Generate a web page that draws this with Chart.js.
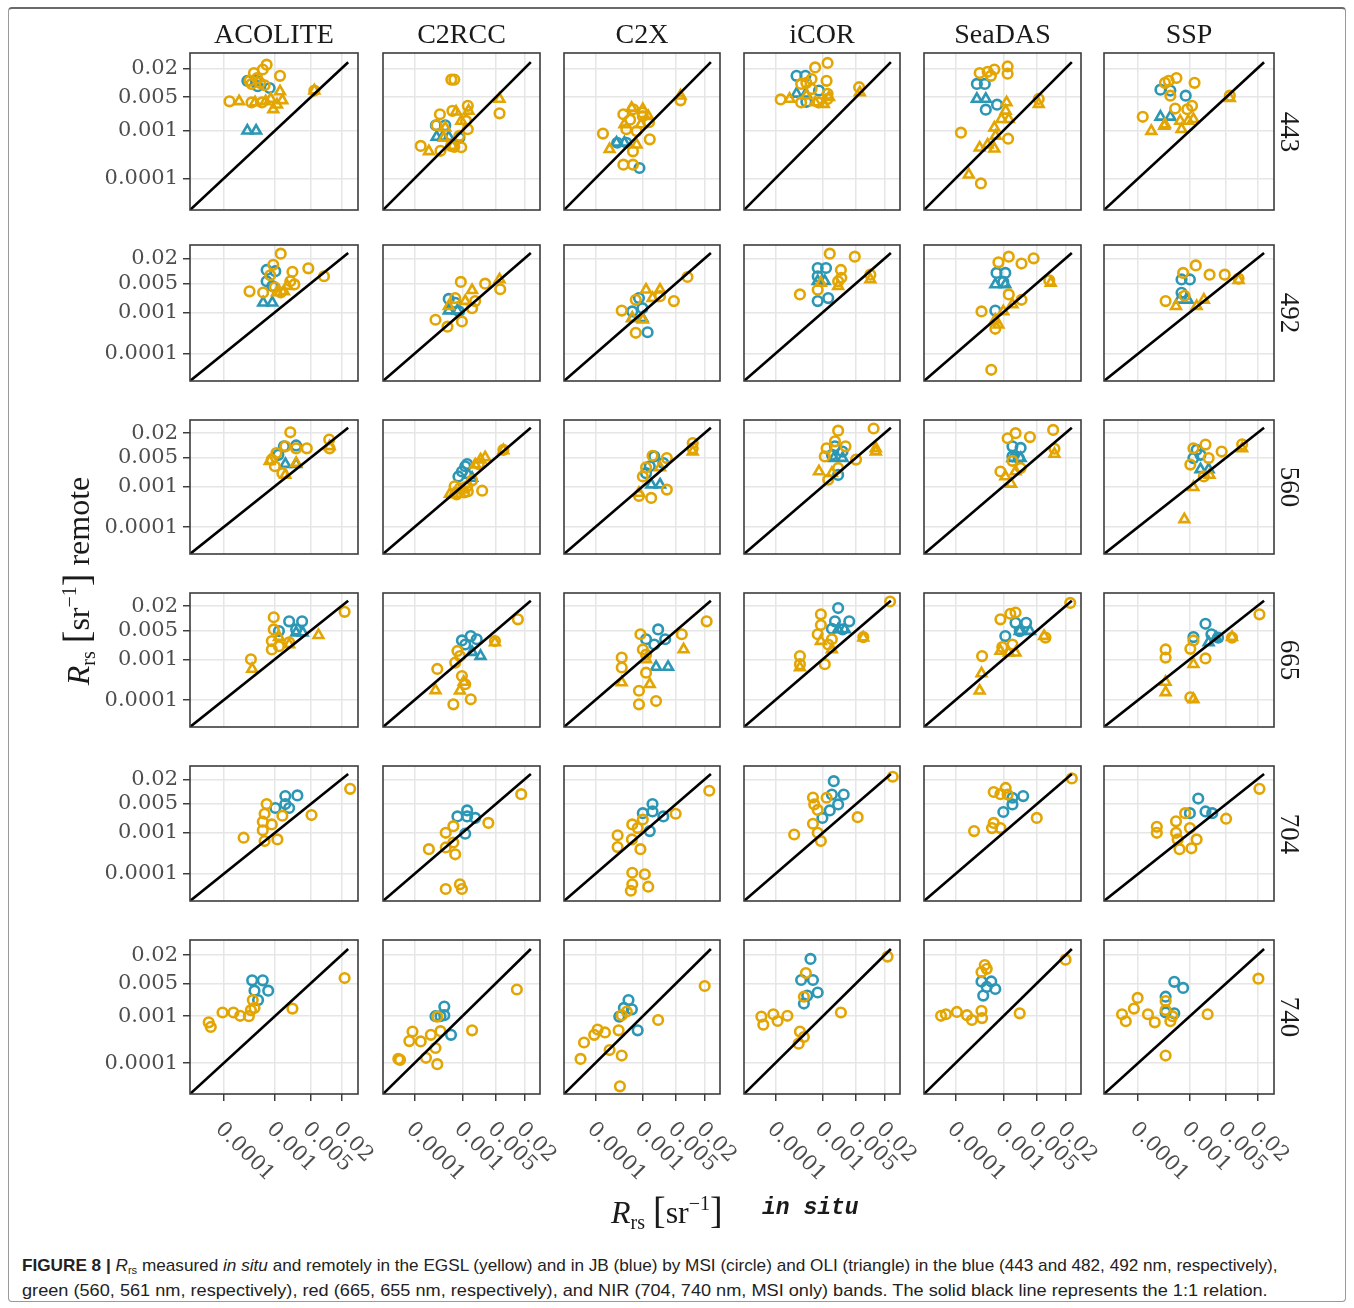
<!DOCTYPE html>
<html>
<head>
<meta charset="utf-8">
<script src="https://cdn.jsdelivr.net/npm/chart.js@4.4.1/dist/chart.umd.min.js"></script>
<style>
  body { margin: 0; background: #fff; width: 1354px; height: 1308px; position: relative; overflow: hidden; font-family: 'Liberation Serif', serif; color: #1a1a1a; }
  .frame { position: absolute; left: 8px; top: 7px; width: 1338px; height: 1295px; border: 1px solid #9a9a9a; border-top: 2px solid #6a6a6a; border-radius: 4px; box-sizing: border-box; }
  .panel { position: absolute; }
  .colhead { position: absolute; top: 20px; font-size: 28px; line-height: 28px; text-align: center; }
  .rowlab { position: absolute; width: 70px; height: 30px; line-height: 30px; font-size: 27px; text-align: center; transform: rotate(90deg); }
  .ytitle { position: absolute; width: 340px; height: 40px; line-height: 40px; font-size: 32px; text-align: center; transform: rotate(-90deg); white-space: nowrap; }
  .xtitle { position: absolute; top: 1183px; height: 40px; line-height: 40px; font-size: 32px; white-space: nowrap; }
  .ytitle sub, .xtitle sub { font-size: 20px; vertical-align: -6px; }
  .ytitle sup, .xtitle sup { font-size: 20px; vertical-align: 13px; }
  .brk { font-size: 38px; }
  .insitu { font-family: 'Liberation Mono', monospace; font-style: italic; font-weight: bold; font-size: 23px; }
  .caption { position: absolute; left: 22px; font-family: 'Liberation Sans', Arial, sans-serif; font-size: 17px; line-height: 20px; color: #222; white-space: nowrap; transform-origin: left center; }
  .caption sub { font-size: 11px; vertical-align: -3px; }
</style>
</head>
<body>
<div class="frame"></div>
<script>
const PROCESSORS = ['ACOLITE', 'C2RCC', 'C2X', 'iCOR', 'SeaDAS', 'SSP'];
const BANDS = ['443', '492', '560', '665', '704', '740'];
const TICK_VALUES = [0.0001, 0.001, 0.005, 0.02];
const TICK_LABELS = ['0.0001', '0.001', '0.005', '0.02'];
const AXIS_RANGE = [2.2e-5, 4.2e-2];
const ONE_TO_ONE = [2.2e-5, 2.7e-2];

// each panel: [in situ, remote] pairs for EGSL/JB and MSI/OLI
const ACOLITE_443 = {
  egslMsi: [[1.3e-4,4.1e-3],[6.9e-4,2.4e-2],[5.8e-4,1.9e-2],[3.9e-4,1.6e-2],[1.26e-3,1.4e-2],[3.2e-4,1.1e-2],[3.5e-4,9.5e-3],[5.1e-4,1.0e-2],[3.5e-4,3.9e-3],[5.6e-4,3.9e-3],[5.9e-3,6.9e-3],[4.5e-4,1.25e-2],[6.3e-4,8.9e-3]],
  egslOli: [[2.0e-4,4.1e-3],[4.1e-4,3.9e-3],[6.6e-4,4.1e-3],[9.3e-4,2.8e-3],[1.26e-3,6.6e-3],[1.4e-3,4.3e-3],[8.3e-4,4.6e-3],[5.9e-3,6.9e-3],[1.1e-3,3.5e-3]],
  jbMsi: [[2.9e-4,1.1e-2],[4.3e-4,1.1e-2],[4.6e-4,8.5e-3],[7.9e-4,7.8e-3]],
  jbOli: [[2.9e-4,1.0e-3],[4.3e-4,1.0e-3]]
};
const C2RCC_443 = {
  egslMsi: [[5.9e-4,1.17e-2],[6.8e-4,1.17e-2],[3.4e-4,2.2e-3],[6.2e-4,2.6e-3],[1.3e-3,3.3e-3],[6.0e-3,2.3e-3],[2.9e-4,1.3e-3],[1.35e-4,4.8e-4],[3.5e-4,3.8e-4],[6.8e-4,4.6e-4],[9.5e-4,4.5e-4],[1.3e-3,1.07e-3],[1.2e-3,1.6e-3],[8.7e-4,7.8e-4],[5.8e-4,4.8e-4]],
  egslOli: [[2.0e-4,3.7e-4],[4.4e-4,1.15e-3],[7.4e-4,2.5e-3],[9.5e-4,1.6e-3],[1.35e-3,2.6e-3],[6.0e-3,4.6e-3],[6.2e-4,4.8e-4],[4.1e-4,7.1e-4]],
  jbMsi: [[2.8e-4,1.3e-3],[4.4e-4,1.3e-3],[8.7e-4,7.1e-4]],
  jbOli: [[2.9e-4,7.4e-4],[3.9e-4,7.4e-4],[5.2e-4,7.4e-4]]
};
const C2X_443 = {
  egslMsi: [[1.45e-4,8.7e-4],[3.9e-4,2.2e-3],[6.3e-4,2.8e-3],[9.8e-4,2.4e-3],[4.5e-4,1.07e-3],[7.4e-4,9.8e-4],[1.4e-3,6.6e-4],[6.2e-4,3.7e-4],[3.9e-4,1.95e-4],[6.2e-4,1.95e-4],[6.2e-3,4.3e-3],[1.35e-3,1.5e-3],[1.0e-3,2.0e-3],[5.4e-4,1.7e-3]],
  egslOli: [[2.0e-4,4.1e-4],[7.4e-4,5.1e-4],[5.8e-4,3.0e-3],[1.0e-3,2.8e-3],[1.3e-3,2.0e-3],[6.2e-3,5.4e-3],[9.1e-4,1.35e-3],[4.1e-4,1.35e-3]],
  jbMsi: [[2.9e-4,5.6e-4],[4.5e-4,5.6e-4],[8.5e-4,1.66e-4]],
  jbOli: [[2.8e-4,5.6e-4],[4.1e-4,5.6e-4]]
};
const ICOR_443 = {
  egslMsi: [[1.3e-4,4.5e-3],[1.26e-3,2.6e-2],[6.9e-4,2.1e-2],[1.2e-3,1.1e-2],[3.5e-4,9.5e-3],[4.5e-4,1.0e-2],[5.8e-4,7.4e-3],[1.26e-3,5.9e-3],[1.26e-3,4.6e-3],[5.8e-3,8.1e-3],[3.5e-4,3.9e-3],[8.1e-4,3.9e-3],[5.8e-4,1.2e-2]],
  egslOli: [[2.0e-4,4.6e-3],[6.9e-4,3.9e-3],[1.05e-3,3.6e-3],[1.35e-3,5.0e-3],[6.0e-3,6.3e-3],[4.5e-4,5.4e-3]],
  jbMsi: [[2.8e-4,1.4e-2],[4.3e-4,1.4e-2],[8.3e-4,6.9e-3],[4.5e-4,4.0e-3]],
  jbOli: [[2.8e-4,5.9e-3],[4.4e-4,5.9e-3]]
};
const SEADAS_443 = {
  egslMsi: [[3.2e-4,1.6e-2],[4.7e-4,1.7e-2],[6.5e-4,1.9e-2],[1.23e-3,2.2e-2],[1.23e-3,1.55e-2],[1.3e-4,9.1e-4],[3.4e-4,7.9e-5],[1.26e-3,6.8e-4],[5.5e-3,4.6e-3],[5.5e-4,1.4e-2]],
  egslOli: [[1.17e-3,3.9e-3],[1.12e-3,2.6e-3],[9.1e-4,1.74e-3],[6.5e-4,1.15e-3],[6.9e-4,7.8e-4],[4.7e-4,5.1e-4],[3.2e-4,4.4e-4],[6.5e-4,4.2e-4],[1.9e-4,1.2e-4],[5.5e-3,3.6e-3],[1.3e-3,1.74e-3]],
  jbMsi: [[2.8e-4,9.5e-3],[4.1e-4,9.5e-3],[4.3e-4,2.75e-3],[7.4e-4,3.5e-3]],
  jbOli: [[2.8e-4,4.6e-3],[4.3e-4,4.6e-3]]
};
const SSP_443 = {
  egslMsi: [[1.23e-4,1.95e-3],[3.3e-4,1.0e-2],[5.5e-4,1.26e-2],[1.23e-3,1.0e-2],[4.2e-4,5.4e-3],[5.2e-4,2.9e-3],[8.9e-4,2.8e-3],[1.1e-3,3.3e-3],[5.9e-3,5.4e-3],[3.9e-4,1.1e-2]],
  egslOli: [[1.8e-4,9.8e-4],[3.2e-4,1.26e-3],[6.9e-4,1.07e-3],[6.5e-4,1.6e-3],[9.3e-4,1.6e-3],[1.17e-3,1.74e-3],[5.9e-3,4.8e-3],[3.3e-4,1.35e-3]],
  jbMsi: [[2.7e-4,7.2e-3],[4.2e-4,6.9e-3],[8.3e-4,5.4e-3]],
  jbOli: [[2.7e-4,1.95e-3],[4.2e-4,1.95e-3]]
};

const ACOLITE_492 = {
  egslMsi: [[1.3e-3,2.6e-2],[9.3e-4,1.4e-2],[2.2e-3,9.5e-3],[4.5e-3,1.15e-2],[9.1e-3,7.4e-3],[3.2e-4,3.2e-3],[5.9e-4,3.0e-3],[2.0e-3,5.6e-3],[2.4e-3,4.7e-3],[1.3e-3,3.0e-3],[8.1e-4,7.8e-3],[1.0e-3,4.0e-3]],
  egslOli: [[1.1e-3,3.0e-3],[1.74e-3,4.3e-3],[1.5e-3,3.2e-3]],
  jbMsi: [[6.9e-4,1.05e-2],[1.02e-3,9.8e-3],[6.9e-4,5.6e-3],[8.9e-4,4.3e-3]],
  jbOli: [[5.9e-4,1.7e-3],[8.9e-4,1.7e-3]]
};
const C2RCC_492 = {
  egslMsi: [[9.3e-4,5.4e-3],[6.2e-3,3.6e-3],[3.0e-3,4.9e-3],[1.86e-3,1.86e-3],[2.75e-4,6.6e-4],[4.9e-4,4.5e-4],[9.8e-4,6.0e-4],[7.1e-4,2.2e-3],[1.6e-3,1.26e-3]],
  egslOli: [[1.6e-3,3.4e-3],[6.0e-3,6.2e-3],[1.15e-3,1.86e-3],[5.2e-4,1.4e-3]],
  jbMsi: [[5.2e-4,2.1e-3],[7.1e-4,1.7e-3],[8.5e-4,1.05e-3]],
  jbOli: [[5.2e-4,1.1e-3],[7.9e-4,1.1e-3]]
};
const C2X_492 = {
  egslMsi: [[8.7e-3,7.1e-3],[4.5e-3,1.86e-3],[3.6e-4,1.1e-3],[7.1e-4,3.2e-4],[2.3e-3,2.45e-3],[7.1e-4,2.0e-3]],
  egslOli: [[1.17e-3,3.5e-3],[2.3e-3,3.5e-3],[1.6e-3,2.2e-3],[6.0e-4,7.2e-4],[1.0e-3,6.6e-4]],
  jbMsi: [[8.3e-4,2.2e-3],[9.8e-4,1.26e-3],[6.0e-4,1.05e-3],[1.26e-3,3.3e-4]],
  jbOli: [[6.0e-4,7.2e-4],[9.8e-4,7.2e-4]]
};
const ICOR_492 = {
  egslMsi: [[1.4e-3,2.6e-2],[4.7e-3,2.2e-2],[2.4e-3,1.05e-2],[3.3e-4,2.7e-3],[2.1e-3,5.6e-3],[2.45e-3,6.8e-3],[1.0e-2,8.1e-3],[7.8e-4,3.5e-3]],
  egslOli: [[1.0e-2,6.2e-3],[9.1e-4,5.1e-3],[2.1e-3,4.3e-3]],
  jbMsi: [[7.8e-4,1.17e-2],[1.17e-3,1.17e-2],[7.8e-4,7.4e-3],[7.8e-4,1.86e-3],[1.3e-3,2.2e-3]],
  jbOli: [[7.8e-4,5.6e-3],[1.1e-3,5.6e-3]]
};
const SEADAS_492 = {
  egslMsi: [[1.3e-3,2.2e-2],[4.3e-3,2.0e-2],[7.9e-4,1.6e-2],[2.4e-3,1.5e-2],[9.1e-3,5.9e-3],[3.5e-4,1.05e-3],[6.8e-4,4.0e-4],[5.6e-4,4.1e-5],[2.4e-3,2.0e-3],[1.3e-3,2.7e-3]],
  egslOli: [[6.8e-4,6.6e-4],[1.0e-3,1.05e-3],[1.55e-3,1.55e-3],[9.8e-3,5.1e-3],[7.9e-4,5.0e-4]],
  jbMsi: [[7.2e-4,8.9e-3],[1.1e-3,8.9e-3],[1.0e-3,5.4e-3],[6.8e-4,1.1e-3]],
  jbOli: [[6.8e-4,4.7e-3],[1.1e-3,4.7e-3]]
};
const SSP_492 = {
  egslMsi: [[3.4e-4,1.86e-3],[1.3e-3,1.35e-2],[2.4e-3,8.1e-3],[4.7e-3,8.1e-3],[8.7e-3,6.5e-3],[7.4e-4,8.9e-3],[7.9e-4,2.5e-3]],
  egslOli: [[8.7e-3,6.0e-3],[5.4e-4,1.4e-3],[1.86e-3,2.0e-3],[1.35e-3,1.4e-3]],
  jbMsi: [[6.9e-4,6.2e-3],[1.0e-3,6.2e-3],[6.9e-4,2.95e-3]],
  jbOli: [[6.3e-4,2.0e-3],[9.1e-4,2.0e-3]]
};

const ACOLITE_560 = {
  egslMsi: [[2.0e-3,2.1e-2],[1.6e-3,9.5e-3],[1.07e-3,6.5e-3],[2.6e-3,8.5e-3],[4.2e-3,8.5e-3],[1.15e-2,1.4e-2],[1.17e-2,8.5e-3],[1.0e-3,3.1e-3],[1.4e-3,2.1e-3],[8.7e-4,4.5e-3]],
  egslOli: [[7.9e-4,4.1e-3],[1.6e-3,1.9e-3],[2.6e-3,3.7e-3],[1.17e-2,9.5e-3]],
  jbMsi: [[1.5e-3,9.5e-3],[2.6e-3,1.0e-2],[1.17e-3,5.9e-3]],
  jbOli: [[1.6e-3,3.5e-3],[2.6e-3,3.5e-3]]
};
const C2RCC_560 = {
  egslMsi: [[7.2e-3,7.8e-3],[2.6e-3,7.8e-4],[6.9e-4,1.0e-3],[8.9e-4,8.9e-4],[1.26e-3,1.0e-3],[1.1e-3,7.1e-4],[7.6e-4,6.3e-4],[2.2e-3,3.5e-3],[1.6e-3,1.4e-3],[8.0e-4,7.0e-4],[1.3e-3,7.5e-4]],
  egslOli: [[6.5e-4,6.3e-4],[1.0e-3,8.3e-4],[1.86e-3,3.4e-3],[3.0e-3,5.1e-3],[2.4e-3,4.5e-3],[7.2e-3,7.6e-3],[5.5e-4,6.5e-4]],
  jbMsi: [[1.15e-3,3.1e-3],[1.26e-3,3.5e-3],[8.3e-4,1.74e-3],[9.8e-4,2.3e-3]],
  jbOli: [[1.6e-3,1.6e-3],[1.35e-3,1.9e-3]]
};
const C2X_560 = {
  egslMsi: [[1.12e-2,1.15e-2],[1.12e-2,8.5e-3],[3.2e-3,4.9e-3],[3.2e-3,8.3e-4],[8.3e-4,5.8e-4],[1.5e-3,5.2e-4],[1.0e-3,1.74e-3],[1.17e-3,2.9e-3],[1.6e-3,5.6e-3]],
  egslOli: [[1.12e-2,7.1e-3],[2.3e-3,2.9e-3],[8.3e-4,6.9e-4]],
  jbMsi: [[1.74e-3,5.4e-3],[1.4e-3,3.1e-3],[1.17e-3,2.1e-3],[2.7e-3,3.7e-3]],
  jbOli: [[1.5e-3,1.1e-3],[2.3e-3,1.1e-3]]
};
const ICOR_560 = {
  egslMsi: [[1.17e-2,2.6e-2],[2.1e-3,2.3e-2],[1.8e-3,1.26e-2],[1.2e-3,8.5e-3],[3.0e-3,9.5e-3],[1.1e-3,5.4e-3],[1.3e-3,1.45e-3],[2.1e-3,2.8e-3],[5.0e-3,4.5e-3]],
  egslOli: [[8.3e-4,2.3e-3],[1.3e-2,8.5e-3],[1.3e-2,7.1e-3],[1.55e-3,2.1e-3]],
  jbMsi: [[1.8e-3,9.5e-3],[2.6e-3,7.1e-3],[1.55e-3,5.9e-3],[2.1e-3,1.9e-3]],
  jbOli: [[1.7e-3,4.9e-3],[2.6e-3,4.9e-3]]
};
const SEADAS_560 = {
  egslMsi: [[1.1e-2,2.4e-2],[1.8e-3,2.0e-2],[1.23e-3,1.5e-2],[3.6e-3,1.6e-2],[1.17e-2,8.3e-3],[8.7e-4,2.3e-3],[2.3e-3,2.8e-3],[1.55e-3,4.2e-3]],
  egslOli: [[1.45e-3,1.15e-3],[1.17e-2,6.2e-3],[1.1e-3,1.74e-3],[1.8e-3,2.3e-3]],
  jbMsi: [[1.55e-3,9.5e-3],[2.3e-3,8.7e-3],[1.55e-3,5.4e-3],[2.1e-3,4.9e-3]],
  jbOli: [[1.55e-3,4.9e-3],[2.3e-3,4.9e-3]]
};
const SSP_560 = {
  egslMsi: [[1.02e-2,1.07e-2],[1.17e-3,8.5e-3],[2.0e-3,1.05e-2],[4.1e-3,7.1e-3],[1.02e-3,3.4e-3],[1.86e-3,1.74e-3],[2.3e-3,4.9e-3]],
  egslOli: [[7.8e-4,1.55e-4],[1.17e-3,9.5e-4],[1.02e-2,8.5e-3],[2.4e-3,1.9e-3]],
  jbMsi: [[1.35e-3,7.8e-3],[1.17e-3,4.9e-3],[1.6e-3,5.9e-3]],
  jbOli: [[1.6e-3,2.6e-3],[2.3e-3,2.6e-3]]
};

const ACOLITE_665 = {
  egslMsi: [[2.3e-2,1.45e-2],[9.5e-4,1.07e-2],[9.5e-4,5.4e-3],[8.7e-4,2.8e-3],[8.7e-4,1.74e-3],[1.2e-3,2.1e-3],[3.4e-4,1.0e-3],[1.9e-3,2.6e-3]],
  egslOli: [[3.6e-4,5.8e-4],[7.1e-3,3.9e-3],[1.9e-3,2.3e-3],[1.2e-3,3.5e-3]],
  jbMsi: [[1.9e-3,8.5e-3],[3.4e-3,8.5e-3],[2.6e-3,5.4e-3],[1.2e-3,4.9e-3]],
  jbOli: [[2.6e-3,4.5e-3],[3.5e-3,4.5e-3]]
};
const C2RCC_665 = {
  egslMsi: [[1.45e-2,9.5e-3],[4.8e-3,2.8e-3],[7.9e-4,1.6e-3],[3.0e-4,5.8e-4],[7.1e-4,8.3e-4],[9.8e-4,3.9e-4],[6.5e-4,7.9e-5],[1.5e-3,1.05e-4],[1.15e-3,2.45e-4],[8.9e-4,1.2e-3]],
  egslOli: [[2.75e-4,1.74e-4],[8.9e-4,1.7e-4],[4.8e-3,2.6e-3],[1.07e-3,2.8e-4]],
  jbMsi: [[9.8e-4,2.9e-3],[1.5e-3,3.7e-3],[2.0e-3,3.1e-3],[1.15e-3,2.3e-3]],
  jbOli: [[2.4e-3,1.2e-3],[1.6e-3,1.5e-3]]
};
const C2X_665 = {
  egslMsi: [[2.2e-2,8.5e-3],[6.6e-3,4.1e-3],[8.9e-4,4.1e-3],[3.6e-4,1.1e-3],[3.6e-4,6.3e-4],[8.3e-4,1.7e-4],[1.9e-3,9.5e-5],[8.3e-4,7.9e-5],[1.17e-3,4.7e-4],[1.17e-3,1.3e-3],[1.0e-3,1.74e-3]],
  egslOli: [[7.2e-3,1.74e-3],[3.6e-4,2.7e-4],[1.4e-3,2.45e-4],[1.17e-3,1.0e-3]],
  jbMsi: [[2.1e-3,5.4e-3],[1.17e-3,3.1e-3],[2.95e-3,3.1e-3],[1.74e-3,2.3e-3]],
  jbOli: [[1.9e-3,6.5e-4],[3.4e-3,6.5e-4]]
};
const ICOR_665 = {
  egslMsi: [[2.6e-2,2.6e-2],[9.1e-4,1.26e-2],[9.1e-4,6.9e-3],[7.8e-4,4.1e-3],[7.1e-3,3.5e-3],[3.3e-4,1.2e-3],[3.3e-4,7.6e-4],[1.1e-3,7.6e-4],[1.3e-3,2.3e-3],[1.55e-3,3.1e-3]],
  egslOli: [[3.3e-4,6.3e-4],[7.1e-3,3.4e-3],[9.1e-4,2.8e-3],[1.55e-3,1.74e-3]],
  jbMsi: [[2.1e-3,1.8e-2],[1.8e-3,8.5e-3],[3.6e-3,8.5e-3],[2.6e-3,5.4e-3],[1.55e-3,5.6e-3]],
  jbOli: [[2.1e-3,5.4e-3],[2.9e-3,5.4e-3]]
};
const SEADAS_665 = {
  egslMsi: [[2.5e-2,2.4e-2],[8.7e-4,9.5e-3],[1.4e-3,1.3e-2],[1.8e-3,1.4e-2],[7.6e-3,3.4e-3],[3.6e-4,1.2e-3],[9.5e-4,2.0e-3],[1.55e-3,2.3e-3]],
  egslOli: [[3.5e-4,4.5e-4],[3.2e-4,1.7e-4],[1.3e-3,1.45e-3],[8.7e-4,1.6e-3],[1.8e-3,1.45e-3],[7.1e-3,3.7e-3]],
  jbMsi: [[1.8e-3,7.8e-3],[3.0e-3,7.8e-3],[1.1e-3,3.7e-3],[2.2e-3,4.9e-3]],
  jbOli: [[2.2e-3,4.9e-3],[3.6e-3,4.9e-3]]
};
const SSP_665 = {
  egslMsi: [[2.2e-2,1.26e-2],[3.4e-4,1.74e-3],[3.4e-4,1.1e-3],[2.0e-3,1.05e-3],[1.02e-3,1.17e-4],[1.17e-3,2.9e-3],[1.02e-3,1.8e-3],[6.5e-3,3.4e-3]],
  egslOli: [[3.4e-4,2.8e-4],[3.4e-4,1.55e-4],[1.17e-3,7.6e-4],[6.5e-3,3.5e-3],[1.17e-3,1.05e-4]],
  jbMsi: [[2.0e-3,7.4e-3],[1.17e-3,3.5e-3],[2.6e-3,4.1e-3],[3.5e-3,3.4e-3]],
  jbOli: [[3.2e-3,3.4e-3],[2.3e-3,2.6e-3]]
};

const ACOLITE_704 = {
  egslMsi: [[2.95e-2,1.17e-2],[5.2e-3,2.7e-3],[6.9e-4,5.0e-3],[6.3e-4,2.9e-3],[5.8e-4,1.86e-3],[5.8e-4,1.15e-3],[2.45e-4,7.6e-4],[6.3e-4,6.3e-4],[1.12e-3,6.9e-4],[8.7e-4,1.6e-3],[1.4e-3,2.6e-3]],
  jbMsi: [[1.6e-3,7.8e-3],[2.75e-3,8.1e-3],[1.02e-3,4.0e-3],[1.9e-3,4.0e-3],[1.6e-3,5.0e-3]]
};
const C2RCC_704 = {
  egslMsi: [[1.7e-2,8.7e-3],[3.5e-3,1.74e-3],[2.0e-4,4.0e-4],[4.5e-4,4.4e-4],[7.1e-4,3.0e-4],[4.5e-4,1.0e-3],[6.5e-4,1.45e-3],[6.5e-4,5.8e-4],[4.5e-4,4.3e-5],[8.9e-4,5.6e-5],[9.8e-4,4.3e-5]],
  jbMsi: [[7.9e-4,2.5e-3],[1.26e-3,3.5e-3],[1.86e-3,2.3e-3],[1.15e-3,9.5e-4],[1.26e-3,2.5e-3]]
};
const C2X_704 = {
  egslMsi: [[2.5e-2,1.05e-2],[4.9e-3,2.9e-3],[6.0e-4,1.6e-3],[1.0e-3,2.1e-3],[2.95e-4,8.7e-4],[5.9e-4,6.9e-4],[2.95e-4,4.5e-4],[8.9e-4,4.0e-4],[6.0e-4,1.07e-4],[1.1e-3,9.8e-5],[6.0e-4,5.6e-5],[1.3e-3,4.9e-5],[5.6e-4,3.9e-5],[7.8e-4,1.3e-3]],
  jbMsi: [[1.6e-3,5.0e-3],[1.0e-3,3.0e-3],[2.7e-3,2.5e-3],[1.4e-3,1.1e-3],[1.6e-3,3.3e-3]]
};
const ICOR_704 = {
  egslMsi: [[2.95e-2,2.3e-2],[5.4e-3,2.4e-3],[6.2e-4,7.2e-3],[6.6e-4,4.9e-3],[1.2e-3,7.1e-3],[2.5e-4,9.1e-4],[6.2e-4,1.66e-3],[7.8e-4,1.0e-3],[9.1e-4,6.3e-4],[7.8e-4,3.6e-3]],
  jbMsi: [[1.7e-3,1.8e-2],[1.55e-3,8.5e-3],[2.75e-3,8.5e-3],[2.1e-3,4.9e-3],[1.4e-3,3.5e-3],[9.8e-4,2.3e-3]]
};
const SEADAS_704 = {
  egslMsi: [[2.7e-2,2.1e-2],[6.3e-4,9.8e-3],[1.12e-3,1.23e-2],[8.7e-4,8.7e-3],[1.23e-3,8.5e-3],[5.0e-3,2.3e-3],[2.45e-4,1.1e-3],[6.3e-4,1.74e-3],[8.7e-4,1.3e-3],[5.8e-4,1.3e-3]],
  jbMsi: [[1.55e-3,7.1e-3],[2.6e-3,7.8e-3],[1.55e-3,4.9e-3],[1.0e-3,3.2e-3]]
};
const SSP_704 = {
  egslMsi: [[2.2e-2,1.17e-2],[5.0e-3,2.2e-3],[2.3e-4,1.4e-3],[2.3e-4,1.0e-3],[5.4e-4,1.9e-3],[5.4e-4,1.0e-3],[5.8e-4,6.9e-4],[1.0e-3,1.3e-3],[1.35e-3,6.9e-4],[6.3e-4,4.0e-4],[1.07e-3,4.2e-4],[8.1e-4,3.0e-3]],
  jbMsi: [[1.45e-3,6.8e-3],[1.0e-3,3.0e-3],[2.0e-3,3.3e-3],[2.7e-3,3.0e-3]]
};

const ACOLITE_740 = {
  egslMsi: [[2.3e-2,6.5e-3],[2.2e-3,1.45e-3],[5.1e-5,7.4e-4],[5.6e-5,5.9e-4],[9.5e-5,1.2e-3],[1.55e-4,1.2e-3],[2.1e-4,1.02e-3],[3.1e-4,1.0e-3],[3.4e-4,1.35e-3],[3.7e-4,2.2e-3],[4.0e-4,1.5e-3]],
  jbMsi: [[3.6e-4,5.8e-3],[5.8e-4,5.8e-3],[4.0e-4,3.5e-3],[7.4e-4,3.5e-3],[4.7e-4,2.2e-3]]
};
const C2RCC_740 = {
  egslMsi: [[1.38e-2,3.7e-3],[1.6e-3,5.0e-4],[3.0e-4,9.8e-4],[3.5e-4,4.8e-4],[9.1e-5,4.7e-4],[7.8e-5,2.95e-4],[1.35e-4,2.9e-4],[4.6e-5,1.23e-4],[5.0e-5,1.17e-4],[1.74e-4,1.3e-4],[2.75e-4,2.1e-4],[3.0e-4,9.5e-5],[2.2e-4,4.0e-4]],
  jbMsi: [[2.75e-4,1.0e-3],[4.2e-4,1.05e-3],[4.2e-4,1.6e-3],[3.5e-4,1.0e-3],[5.8e-4,4.0e-4]]
};
const C2X_740 = {
  egslMsi: [[2.0e-2,4.4e-3],[2.1e-3,8.3e-4],[4.9e-5,1.23e-4],[5.8e-5,2.75e-4],[9.5e-5,4.0e-4],[1.12e-4,5.2e-4],[1.6e-4,4.5e-4],[2.0e-4,1.9e-4],[3.6e-4,1.45e-4],[3.3e-4,3.2e-5],[3.1e-4,5.0e-4],[3.6e-4,1.05e-3],[4.6e-4,1.26e-3]],
  jbMsi: [[5.0e-4,2.2e-3],[4.0e-4,1.5e-3],[5.9e-4,1.4e-3],[3.2e-4,9.8e-4],[7.8e-4,5.0e-4]]
};
const ICOR_740 = {
  egslMsi: [[2.3e-2,1.86e-2],[2.4e-3,1.2e-3],[5.1e-5,9.8e-4],[5.6e-5,6.6e-4],[9.1e-5,1.1e-3],[1.12e-4,7.9e-4],[1.8e-4,1.02e-3],[3.3e-4,4.7e-4],[3.1e-4,2.6e-4],[4.0e-4,3.6e-4],[4.4e-4,8.3e-3],[4.0e-4,2.6e-3]],
  jbMsi: [[5.5e-4,1.66e-2],[3.5e-4,5.9e-3],[6.2e-4,5.9e-3],[7.8e-4,3.2e-3],[4.0e-4,1.86e-3],[4.7e-4,2.75e-3]]
};
const SEADAS_740 = {
  egslMsi: [[2.0e-2,1.6e-2],[2.2e-3,1.15e-3],[5.0e-5,1.02e-3],[6.3e-5,1.1e-3],[1.07e-4,1.23e-3],[1.74e-4,1.05e-3],[2.2e-4,8.3e-4],[3.5e-4,1.3e-3],[3.6e-4,9.1e-4],[4.1e-4,1.23e-2],[4.5e-4,1.02e-2],[3.5e-4,8.7e-3]],
  jbMsi: [[3.5e-4,5.5e-3],[5.6e-4,5.5e-3],[6.8e-4,3.8e-3],[3.8e-4,2.75e-3],[4.5e-4,4.2e-3]]
};
const SSP_740 = {
  egslMsi: [[2.1e-2,6.3e-3],[2.2e-3,1.1e-3],[4.9e-5,1.1e-3],[5.8e-5,7.8e-4],[9.8e-5,2.45e-3],[8.3e-5,1.45e-3],[1.55e-4,1.1e-3],[2.1e-4,7.4e-4],[3.4e-4,1.35e-3],[3.4e-4,2.1e-3],[4.2e-4,7.8e-4],[4.6e-4,1.0e-3],[3.4e-4,1.45e-4]],
  jbMsi: [[5.0e-4,5.4e-3],[7.4e-4,4.0e-3],[3.4e-4,2.6e-3],[3.4e-4,1.2e-3],[5.0e-4,1.15e-3]]
};

const PANELS = [
  [ACOLITE_443, C2RCC_443, C2X_443, ICOR_443, SEADAS_443, SSP_443],
  [ACOLITE_492, C2RCC_492, C2X_492, ICOR_492, SEADAS_492, SSP_492],
  [ACOLITE_560, C2RCC_560, C2X_560, ICOR_560, SEADAS_560, SSP_560],
  [ACOLITE_665, C2RCC_665, C2X_665, ICOR_665, SEADAS_665, SSP_665],
  [ACOLITE_704, C2RCC_704, C2X_704, ICOR_704, SEADAS_704, SSP_704],
  [ACOLITE_740, C2RCC_740, C2X_740, ICOR_740, SEADAS_740, SSP_740]
];

// panel boxes on the page
const COL_X = [190, 383, 564, 744, 924, 1104];
const COL_W = [168, 157, 156, 156, 157, 170];
const ROW_Y = [53, 245, 420, 593, 766, 940];
const ROW_H = [157, 136, 134, 134, 135, 154];

const YELLOW = '#E3A502';
const BLUE = '#2B97B5';
const SERIES = [
  { key: 'egslMsi', color: YELLOW, style: 'circle' },
  { key: 'egslOli', color: YELLOW, style: 'triangle' },
  { key: 'jbMsi', color: BLUE, style: 'circle' },
  { key: 'jbOli', color: BLUE, style: 'triangle' }
];

const framePlugin = {
  id: 'panelFrame',
  afterDatasetsDraw(chart) {
    const { ctx, chartArea: a } = chart;
    ctx.save();
    ctx.strokeStyle = '#3c3c3c';
    ctx.lineWidth = 1.6;
    ctx.strokeRect(a.left, a.top, a.right - a.left, a.bottom - a.top);
    ctx.restore();
  }
};

// rotated x tick labels under the bottom row
const xLabelPlugin = {
  id: 'xLabels',
  afterDraw(chart) {
    const { ctx, chartArea: a, scales } = chart;
    ctx.save();
    ctx.font = '21px "DejaVu Serif"';
    ctx.fillStyle = '#4d4d4d';
    ctx.textAlign = 'left';
    ctx.textBaseline = 'middle';
    TICK_VALUES.forEach((v, i) => {
      const px = scales.x.getPixelForValue(v);
      ctx.save();
      ctx.translate(px - 5, a.bottom + 32);
      ctx.rotate(Math.PI / 4);
      ctx.fillText(TICK_LABELS[i], 0, 0);
      ctx.restore();
    });
    ctx.restore();
  }
};

function makePanel(r, c) {
  const yAxisW = c === 0 ? 98 : 0;
  const padL = 12;
  const padB = r === 5 ? 110 : 22;
  const padT = 22;
  const padR = r === 5 ? 45 : 12;
  const left = padL + yAxisW;
  const w = COL_W[c] + left + padR;
  const h = ROW_H[r] + padT + padB;
  const box = document.createElement('div');
  box.className = 'panel';
  box.style.left = (COL_X[c] - left) + 'px';
  box.style.top = (ROW_Y[r] - padT) + 'px';
  const canvas = document.createElement('canvas');
  canvas.width = w;
  canvas.height = h;
  canvas.style.width = w + 'px';
  canvas.style.height = h + 'px';
  box.appendChild(canvas);
  document.body.appendChild(box);

  const data = PANELS[r][c];
  const datasets = [{
    type: 'line',
    data: ONE_TO_ONE.map(v => ({ x: v, y: v })),
    borderColor: '#000',
    borderWidth: 2.6,
    pointRadius: 0,
    order: 0
  }];
  SERIES.forEach(s => {
    datasets.push({
      type: 'scatter',
      data: (data[s.key] || []).map(([x, y]) => ({ x, y })),
      pointStyle: s.style,
      pointRadius: s.style === 'triangle' ? 5.6 : 4.8,
      borderColor: s.color,
      backgroundColor: 'rgba(0,0,0,0)',
      borderWidth: 2.6,
      order: 1
    });
  });

  const grid = (ticks) => ({
    color: '#E6E6E6',
    lineWidth: 1.5,
    drawTicks: ticks,
    tickLength: 7,
    tickColor: '#333',
    tickWidth: 1.4
  });

  new Chart(canvas, {
    type: 'scatter',
    data: { datasets },
    options: {
      responsive: false,
      animation: false,
      events: [],
      layout: { padding: { left: padL, right: padR, top: padT, bottom: padB } },
      plugins: { legend: { display: false }, tooltip: { enabled: false } },
      scales: {
        x: {
          type: 'logarithmic',
          min: AXIS_RANGE[0],
          max: AXIS_RANGE[1],
          afterBuildTicks: s => { s.ticks = TICK_VALUES.map(value => ({ value })); },
          afterFit: s => { s.height = 0; },
          border: { display: false },
          grid: grid(r === 5),
          ticks: { display: false, autoSkip: false }
        },
        y: {
          type: 'logarithmic',
          min: AXIS_RANGE[0],
          max: AXIS_RANGE[1],
          afterBuildTicks: s => { s.ticks = TICK_VALUES.map(value => ({ value })); },
          afterFit: s => { s.width = yAxisW; },
          border: { display: false },
          grid: grid(c === 0),
          ticks: {
            display: c === 0,
            autoSkip: false,
            padding: 5,
            color: '#4d4d4d',
            font: { family: 'DejaVu Serif', size: 21 },
            callback: (v, i) => TICK_LABELS[i]
          }
        }
      }
    },
    plugins: r === 5 ? [framePlugin, xLabelPlugin] : [framePlugin]
  });
}

for (let r = 0; r < BANDS.length; r++) {
  for (let c = 0; c < PROCESSORS.length; c++) makePanel(r, c);
}

function addDiv(cls, html, styles) {
  const d = document.createElement('div');
  d.className = cls;
  d.innerHTML = html;
  Object.assign(d.style, styles);
  document.body.appendChild(d);
  return d;
}

PROCESSORS.forEach((p, c) => {
  addDiv('colhead', p, { left: COL_X[c] + 'px', width: COL_W[c] + 'px' });
});
BANDS.forEach((b, r) => {
  const cy = ROW_Y[r] + ROW_H[r] / 2;
  addDiv('rowlab', b, { left: (1290 - 35) + 'px', top: (cy - 15) + 'px' });
});

addDiv('ytitle', '<i>R</i><sub>rs</sub> <span class="brk">[</span>sr<sup>\u22121</sup><span class="brk">]</span> remote', { left: (69 - 170) + 'px', top: (581 - 20) + 'px' });
addDiv('xtitle', '<i>R</i><sub>rs</sub> <span class="brk">[</span>sr<sup>\u22121</sup><span class="brk">]</span>', { left: '611px' });
addDiv('xtitle', '<span class="insitu">in situ</span>', { left: '762px' });

const cap1 = addDiv('caption', '<b>FIGURE 8 |</b> <i>R</i><sub>rs</sub> measured <i>in situ</i> and remotely in the EGSL (yellow) and in JB (blue) by MSI (circle) and OLI (triangle) in the blue (443 and 482, 492 nm, respectively),', { top: '1256px' });
const cap2 = addDiv('caption', 'green (560, 561 nm, respectively), red (665, 655 nm, respectively), and NIR (704, 740 nm, MSI only) bands. The solid black line represents the 1:1 relation.', { top: '1281px' });
[[cap1, 1256], [cap2, 1246]].forEach(([el, target]) => {
  const wNow = el.scrollWidth;
  el.style.transform = 'scaleX(' + (target / wNow) + ')';
});
</script>
</body>
</html>
